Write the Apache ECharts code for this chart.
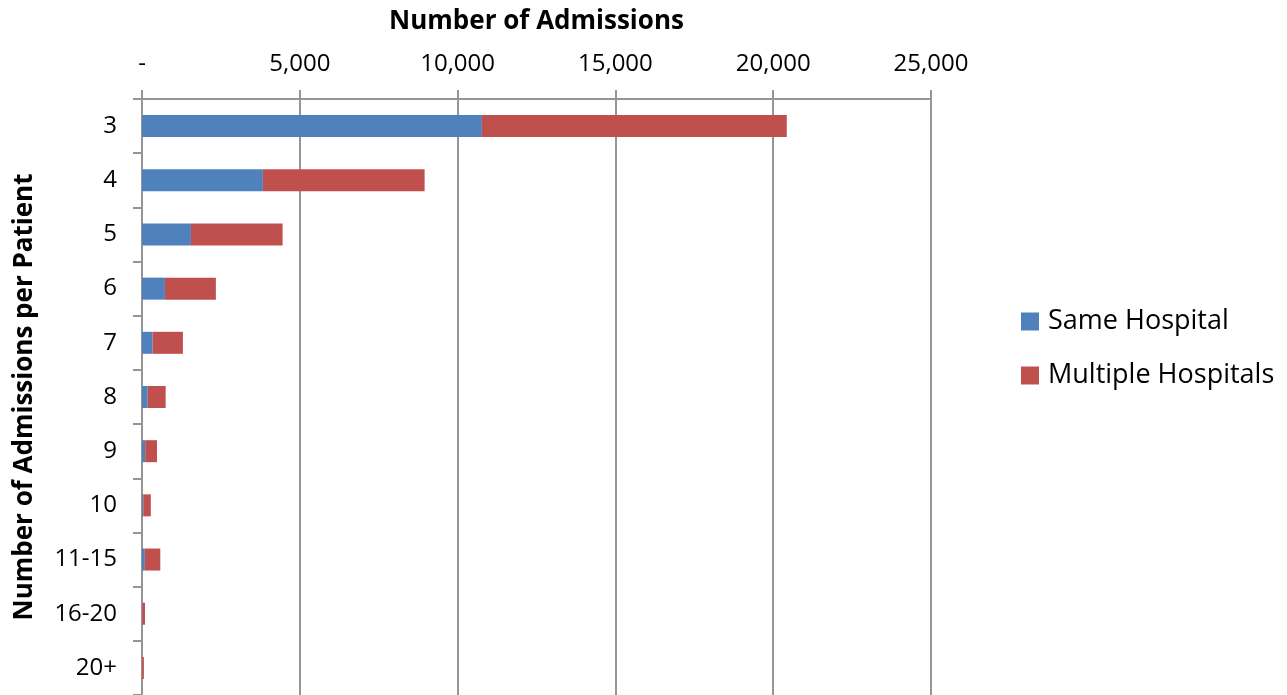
<!DOCTYPE html>
<html>
<head>
<meta charset="utf-8">
<script src="https://cdn.jsdelivr.net/npm/echarts@6/dist/echarts.min.js"></script>
<style>
html,body{margin:0;padding:0;background:#fff;}
#chart{width:1287px;height:695px;}
</style>
</head>
<body>
<div id="chart"></div>
<script>
var categories = ['3','4','5','6','7','8','9','10','11-15','16-20','20+'];
var sameHospital = [10770, 3830, 1550, 726, 336, 180, 100, 40, 90, 10, 5];
var multipleHospitals = [9660, 5125, 2905, 1615, 960, 570, 375, 240, 490, 85, 55];
var xTickValues = [0, 5000, 10000, 15000, 20000, 25000];

var FONT = 'Open Sans';
var chart = echarts.init(document.getElementById('chart'), null, {renderer: 'canvas'});
var gridColor = '#959595';

chart.setOption({
  animation: false,
  backgroundColor: '#ffffff',
  textStyle: {fontFamily: FONT},
  grid: {left: 142, top: 99, width: 789, height: 601, containLabel: false},
  legend: {
    orient: 'vertical',
    left: 1021,
    top: 308,
    padding: 0,
    itemWidth: 18,
    itemHeight: 18,
    itemGap: 27,
    icon: 'rect',
    textStyle: {fontFamily: FONT, fontSize: 27, color: '#000', padding: [0,0,0,4]},
    data: ['Same Hospital', 'Multiple Hospitals']
  },
  xAxis: {
    type: 'value',
    position: 'top',
    min: xTickValues[0],
    max: xTickValues[xTickValues.length - 1],
    interval: xTickValues[1] - xTickValues[0],
    name: 'Number of Admissions',
    nameLocation: 'middle',
    nameGap: 64,
    nameTextStyle: {fontFamily: FONT, fontSize: 26, fontWeight: 'bold', color: '#000'},
    axisLine: {show: true, lineStyle: {color: gridColor, width: 2}},
    axisTick: {show: true, inside: false, length: 9, lineStyle: {color: gridColor, width: 2}},
    axisLabel: {
      fontFamily: FONT, fontSize: 24, color: '#000', margin: 23,
      formatter: function (v) { return v === 0 ? '-' : v.toLocaleString('en-US'); }
    },
    splitLine: {show: true, lineStyle: {color: gridColor, width: 2}}
  },
  yAxis: {
    type: 'category',
    inverse: true,
    data: categories,
    name: 'Number of Admissions per Patient',
    nameLocation: 'middle',
    nameRotate: 90,
    nameGap: 104,
    nameTextStyle: {fontFamily: FONT, fontSize: 26, fontWeight: 'bold', color: '#000'},
    axisLine: {show: true, lineStyle: {color: gridColor, width: 2}},
    axisTick: {show: true, inside: false, length: 9, lineStyle: {color: gridColor, width: 2}},
    axisLabel: {fontFamily: FONT, fontSize: 24, color: '#000', margin: 25},
    splitLine: {show: false}
  },
  series: [
    {
      name: 'Same Hospital',
      type: 'bar',
      stack: 'total',
      data: sameHospital,
      barWidth: 22,
      itemStyle: {color: '#4F81BD'}
    },
    {
      name: 'Multiple Hospitals',
      type: 'bar',
      stack: 'total',
      data: multipleHospitals,
      barWidth: 22,
      itemStyle: {color: '#C0504D'}
    }
  ]
});
</script>
</body>
</html>
